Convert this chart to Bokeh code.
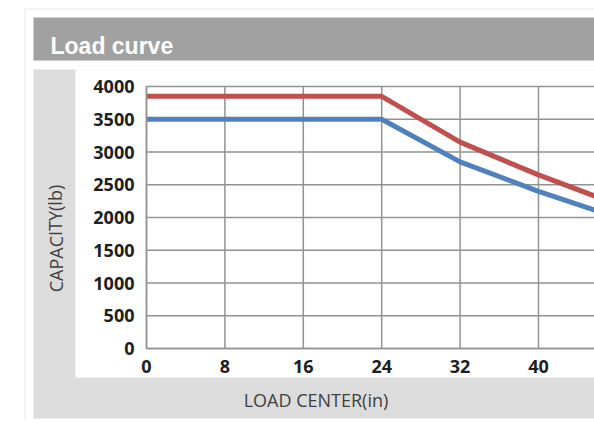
from bokeh.plotting import figure
from bokeh.models import BoxAnnotation, Label, FixedTicker, Range1d, LinearAxis, Grid
from bokeh.embed import file_html
from bokeh.resources import INLINE

# data
load_center = [0, 24, 32, 40, 48]
capacity_red = [3850, 3850, 3150, 2650, 2200]
capacity_blue = [3500, 3500, 2850, 2400, 2000]
x_ticks = [0, 8, 16, 24, 32, 40, 48]
y_ticks = [0, 500, 1000, 1500, 2000, 2500, 3000, 3500, 4000]

W, H = 594, 420
# layout: plot area (x 0..40 -> px 146..538, y 0..4000 -> px 348..86)
px_per_x = (538 - 146) / 40.0
y_per_px = 4000.0 / (348 - 86)
x_range = Range1d(-146 / px_per_x, (W - 146) / px_per_x)
y_range = Range1d(-(H - 348) * y_per_px, 4000 + 86 * y_per_px)

p = figure(width=W, height=H, output_backend="svg", toolbar_location=None,
           x_range=x_range, y_range=y_range, x_axis_location=None, y_axis_location=None,
           min_border=0, min_border_left=0, min_border_right=0, min_border_top=0, min_border_bottom=0)
p.title.visible = False
p.border_fill_color = "white"
p.background_fill_color = "white"
p.outline_line_color = None
# drop any default grids
p.center = [r for r in p.center if not isinstance(r, Grid)]

def box(l, r, t, b, **kw):
    # page pixel coordinates (top-down) -> screen units (bottom-up)
    return BoxAnnotation(left=l, right=r, top=H - t, bottom=H - b, left_units="screen", right_units="screen",
                         top_units="screen", bottom_units="screen", level="image", **kw)

p.add_layout(box(24.5, 700, 8.5, 440, fill_alpha=0, line_color="#b4b4b4", line_width=1))
p.add_layout(box(33, 700, 17, 60, fill_color="#a1a1a1", fill_alpha=1, line_color=None))
p.add_layout(box(33, 700, 69, 418, fill_color="#dcdcdc", fill_alpha=1, line_color=None))
p.add_layout(box(75, 700, 69, 377, fill_color="white", fill_alpha=1, line_color=None))

p.add_layout(Label(x=50, y=H - 45, x_units="screen", y_units="screen", text="Load curve",
                   text_color="white", text_font="Liberation Sans", text_font_style="bold",
                   text_font_size="23px", text_baseline="alphabetic"))
p.add_layout(Label(x=55, y=H - 238, x_units="screen", y_units="screen", text="CAPACITY(lb)",
                   text_color="#404040", text_font="Open Sans", text_font_size="18px",
                   angle=1.5708, text_align="center", text_baseline="middle"))
p.add_layout(Label(x=315.5, y=H - 399.5, x_units="screen", y_units="screen", text="LOAD CENTER(in)",
                   text_color="#404040", text_font="Open Sans", text_font_size="18px",
                   text_align="center", text_baseline="middle"))

# grid lines limited to the plot area
nx, ny = len(x_ticks), len(y_ticks)
p.segment(x0=x_ticks, y0=[y_ticks[0]] * nx, x1=x_ticks, y1=[y_ticks[-1]] * nx,
          line_color="#929292", line_width=1.5, level="underlay")
p.segment(x0=[x_ticks[0]] * ny, y0=y_ticks, x1=[x_ticks[-1]] * ny, y1=y_ticks,
          line_color="#929292", line_width=1.5, level="underlay")

p.line(load_center, capacity_red, line_color="#c0504d", line_width=5)
p.line(load_center, capacity_blue, line_color="#4f81bd", line_width=5)

xaxis = LinearAxis(fixed_location=0, ticker=FixedTicker(ticks=x_ticks), bounds=(0, 48))
yaxis = LinearAxis(fixed_location=0, ticker=FixedTicker(ticks=y_ticks), bounds=(0, 4000))
for ax in (xaxis, yaxis):
    ax.axis_line_color = "#929292"
    ax.axis_line_width = 1.5
    ax.major_tick_line_color = None
    ax.minor_tick_line_color = None
    ax.major_label_text_font = "Open Sans"
    ax.major_label_text_font_style = "bold"
    ax.major_label_text_font_size = "18px"
    ax.major_label_text_color = "#1e1e1e"
xaxis.major_label_standoff = 5
yaxis.major_label_standoff = 6
p.add_layout(xaxis, "below")
p.add_layout(yaxis, "left")

open("out.html", "w").write(file_html(p, INLINE))
